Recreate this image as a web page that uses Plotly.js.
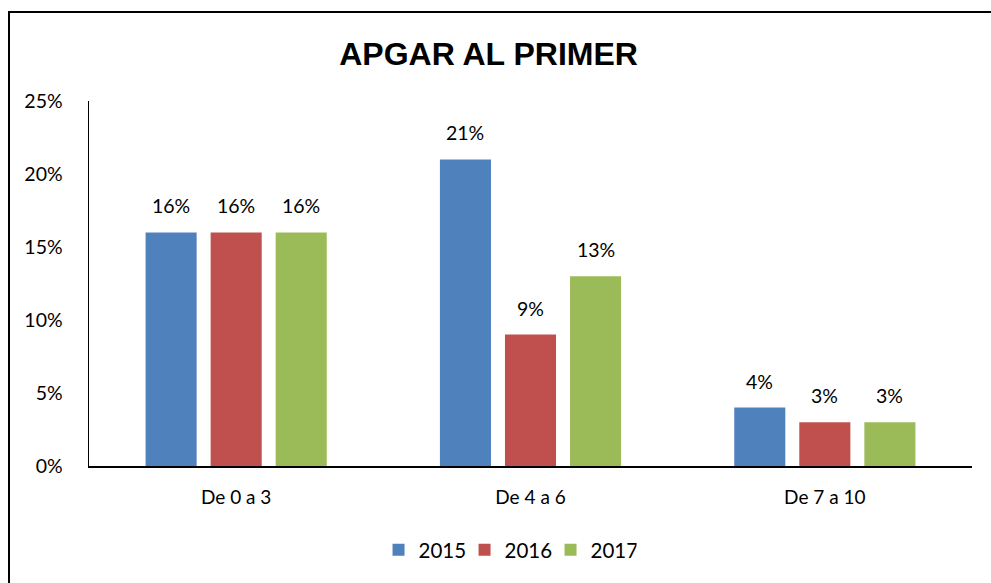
<!DOCTYPE html>
<html><head><meta charset="utf-8">
<script src="https://cdn.plot.ly/plotly-3.0.1.min.js"></script>
<style>
html,body{margin:0;padding:0;background:#fff;overflow:hidden}
#chart{width:991px;height:583px;position:absolute;left:0;top:0}
#frame{position:absolute;left:8px;top:11px;width:1000px;height:600px;border:2px solid #000;box-sizing:border-box;pointer-events:none}
</style></head>
<body>
<div id="chart"></div>
<div id="frame"></div>
<script>
var categories = ["De 0 a 3", "De 4 a 6", "De 7 a 10"];
var seriesNames = ["2015", "2016", "2017"];
var values2015 = [0.16, 0.21, 0.04];
var values2016 = [0.16, 0.09, 0.03];
var values2017 = [0.16, 0.13, 0.03];
var colors = ["#4F81BD", "#C0504D", "#9BBB59"];
var allValues = [values2015, values2016, values2017];

var font = "Lato, 'Open Sans', 'Liberation Sans', sans-serif";
var traces = allValues.map(function(v, i){
  return {type:'bar', x:categories, y:v, name:seriesNames[i], marker:{color:colors[i]}, hoverinfo:'none'};
});

var bargap = 0.337, bargroupgap = 0.215;
var slot = (1 - bargap) / 3;
var annotations = [];
allValues.forEach(function(v, s){
  v.forEach(function(val, c){
    annotations.push({x: c + (s - 1) * slot, y: val, xref:'x', yref:'y', text: Math.round(val*100) + '%',
      showarrow:false, yanchor:'bottom', yshift:13, font:{family:font, size:19.5, color:'#000'}});
  });
});

var layout = {
  width:991, height:583,
  margin:{l:89, r:19, t:101, b:117},
  paper_bgcolor:'#fff', plot_bgcolor:'#fff',
  title:{text:'<b>APGAR AL PRIMER</b>', x:0.493, xanchor:'center', y:0.907, yanchor:'middle',
    font:{family:"'Liberation Sans', Arial, sans-serif", size:32, color:'#000'}},
  barmode:'group', bargap:bargap, bargroupgap:bargroupgap,
  showlegend:true,
  legend:{orientation:'h', x:0.474, xanchor:'center', y:-0.23, yanchor:'middle',
    font:{family:font, size:20.5, color:'#000'}, entrywidth:41, entrywidthmode:'pixels', traceorder:'normal'},
  xaxis:{type:'category', showline:true, linecolor:'#000', linewidth:1.5, ticks:'', showgrid:false,
    tickfont:{family:font, size:19, color:'#000'}, ticklabelstandoff:14},
  yaxis:{range:[0,0.25], dtick:0.05, tickformat:'.0%', showline:true, linecolor:'#000', linewidth:1.5,
    ticks:'', showgrid:false, zeroline:false, tickfont:{family:font, size:19.5, color:'#000'}, ticklabelstandoff:21},
  annotations:annotations
};
Plotly.newPlot('chart', traces, layout, {displayModeBar:false, staticPlot:true});
</script>
</body></html>
